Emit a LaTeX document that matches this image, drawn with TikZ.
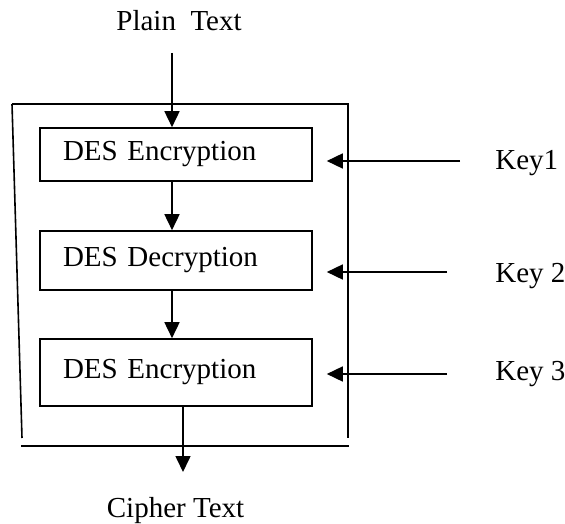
\documentclass[tikz,border=0pt]{standalone}
\usepackage{fontspec}
\setmainfont{Liberation Serif}
\usetikzlibrary{arrows.meta}
\tikzset{
  lbl/.style={font=\fontsize{14.5}{17}\selectfont, inner sep=0pt},
  desbox/.style={lbl, draw, line width=0.8pt, text width=113pt, align=left,
    inner xsep=11.5pt},
  frame/.style={line width=0.8pt},
  arw/.style={line width=0.8pt, -{Triangle[length=8pt,width=7.5pt]}}
}
\begin{document}
\begin{tikzpicture}[x=0.5pt,y=-0.5pt]
   \useasboundingbox (0,0) rectangle (565,523);
   % outer frame
   \draw[frame] (12,104) -- (348,104) -- (348,438);
   \draw[frame] (12,104) -- (22,438);
   \draw[frame] (21,446) -- (349,446);
   % stages
   \node[desbox, minimum height=26.5pt] (enc1) at (176,154.5) {DES Encryption};
   \node[desbox, minimum height=29.5pt] (dec) at (176,260.5) {DES Decryption};
   \node[desbox, minimum height=33.5pt] (enc2) at (176,372.5) {DES Encryption};
   \node[lbl, anchor=base] (plain) at (179,31) {Plain\ \ Text};
   \node[lbl, anchor=base] (cipher) at (175.5,517) {Cipher Text};
   \node[lbl, anchor=base west] (key1) at (495,170) {Key1};
   \node[lbl, anchor=base west] (key2) at (495,282) {Key 2};
   \node[lbl, anchor=base west] (key3) at (495,380) {Key 3};
   % data path
   \coordinate (in) at (172,53);
   \coordinate (out) at (183,472);
   \draw[arw] (in) -- (in |- enc1.north);
   \draw[arw] (in |- enc1.south) -- (in |- dec.north);
   \draw[arw] (in |- dec.south) -- (in |- enc2.north);
   \draw[arw] (out |- enc2.south) -- (out);
   % keys
   \coordinate (t1) at (460,161);
   \coordinate (t2) at (447,272);
   \coordinate (t3) at (447,374);
   \draw[arw] (t1) -- ([xshift=7pt]enc1.east |- t1);
   \draw[arw] (t2) -- ([xshift=7pt]dec.east |- t2);
   \draw[arw] (t3) -- ([xshift=7pt]enc2.east |- t3);
\end{tikzpicture}
\end{document}
